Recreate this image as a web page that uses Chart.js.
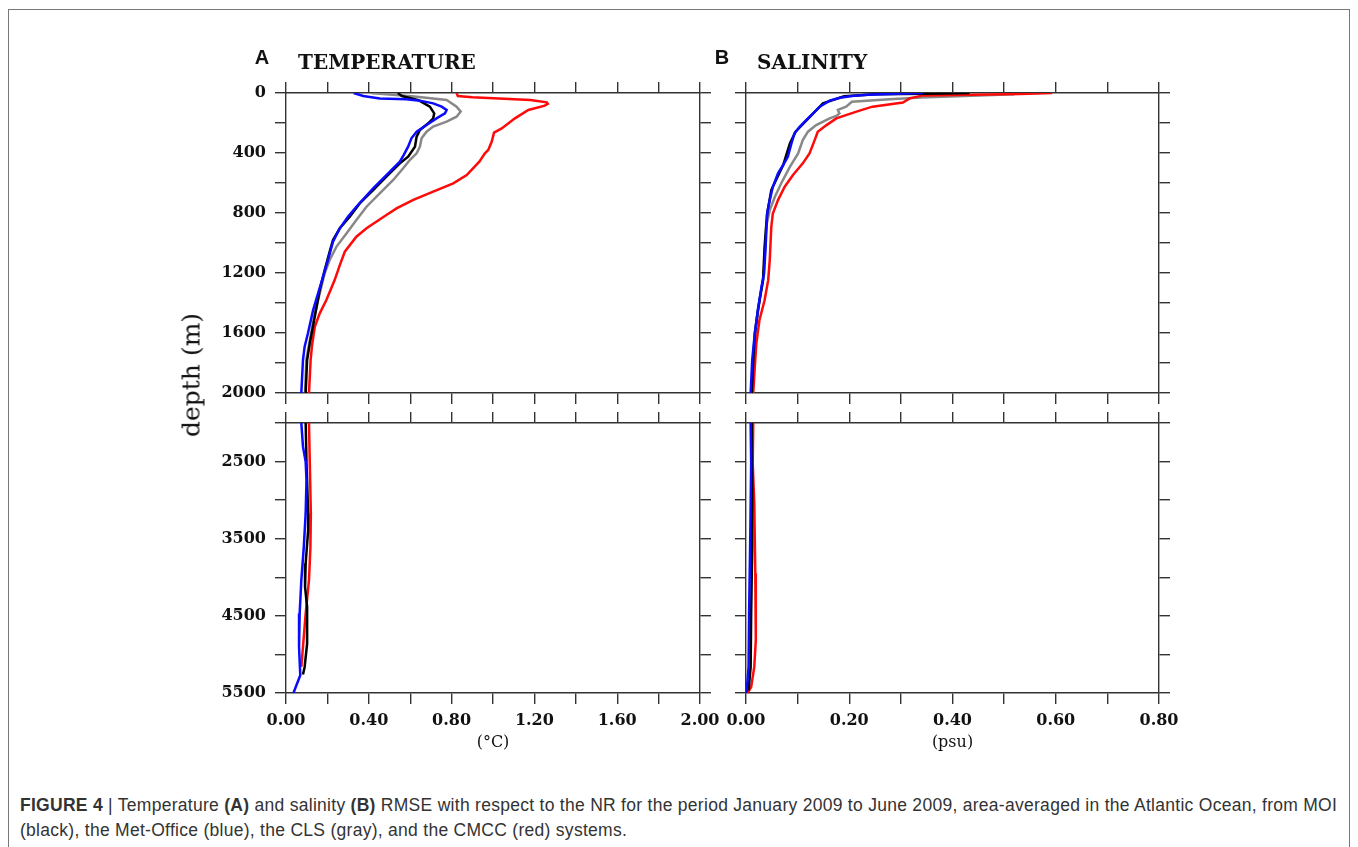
<!DOCTYPE html>
<html>
<head>
<meta charset="utf-8">
<script src="https://cdn.jsdelivr.net/npm/chart.js@4.4.1/dist/chart.umd.min.js"></script>
<style>
  body { margin: 0; background: #fff; width: 1358px; height: 847px; overflow: hidden; position: relative; }
  #frame { position: absolute; left: 8px; top: 9px; width: 1342px; height: 870px; border: 1px solid #777; box-sizing: border-box; }
  canvas { position: absolute; }
  .txt { position: absolute; white-space: nowrap; line-height: 1; transform: translateY(-50%); color: #111; }
  .letter { font: bold 20px "Liberation Sans", Arial, sans-serif; transform: translate(-50%, -50%); }
  .ptitle { font: bold 20px "DejaVu Serif", serif; }
  #ylab { font: 25px "DejaVu Serif", serif; transform: translate(-50%, -50%) rotate(-90deg); }
  #cap { position: absolute; left: 20px; top: 793px; font: 17.5px "Liberation Sans", Arial, sans-serif; letter-spacing: 0.28px; line-height: 25px; color: #333; white-space: nowrap; }
</style>
</head>
<body>
<div id="frame"></div>
<canvas id="tl" width="540" height="365" style="left:190px;top:40px"></canvas>
<canvas id="bl" width="540" height="350" style="left:190px;top:405px"></canvas>
<canvas id="tr" width="520" height="365" style="left:690px;top:40px"></canvas>
<canvas id="br" width="520" height="350" style="left:690px;top:405px"></canvas>

<div class="txt letter" style="left:262px;top:57px">A</div>
<div class="txt ptitle" style="left:298px;top:62px">TEMPERATURE</div>
<div class="txt letter" style="left:722px;top:57px">B</div>
<div class="txt ptitle" style="left:757px;top:62px">SALINITY</div>
<div class="txt" id="ylab" style="left:191px;top:375px">depth (m)</div>

<div id="cap"><b>FIGURE 4</b> | Temperature <b>(A)</b> and salinity <b>(B)</b> RMSE with respect to the NR for the period January 2009 to June 2009, area-averaged in the Atlantic Ocean, from MOI<br>(black), the Met-Office (blue), the CLS (gray), and the CMCC (red) systems.</div>

<script>
// temperature RMSE (degC) vs depth (m)
const tMoiDepth = [0, 20, 47, 91, 136, 169, 202, 247, 291, 358, 424, 469, 558, 647, 736, 824, 902, 980, 1058, 1180, 1313, 1491, 1669, 1780, 2000, 2523, 3172, 3389, 3821, 4124, 4384, 4860, 5162, 5260];
const tMoi = [0.54, 0.56, 0.64, 0.695, 0.716, 0.711, 0.687, 0.647, 0.631, 0.623, 0.59, 0.55, 0.485, 0.421, 0.356, 0.308, 0.26, 0.227, 0.211, 0.187, 0.163, 0.139, 0.115, 0.102, 0.095, 0.099, 0.107, 0.107, 0.095, 0.092, 0.102, 0.102, 0.09, 0.082];

const tMetDepth = [0, 20, 36, 42, 51, 69, 91, 113, 136, 169, 213, 258, 302, 358, 413, 458, 547, 636, 758, 824, 902, 991, 1113, 1224, 1336, 1447, 1602, 1691, 1780, 2000, 2307, 2502, 2740, 3172, 3605, 4038, 4470, 4903, 5270, 5500];
const tMet = [0.327, 0.373, 0.453, 0.582, 0.647, 0.711, 0.752, 0.776, 0.768, 0.727, 0.679, 0.631, 0.606, 0.59, 0.569, 0.55, 0.485, 0.421, 0.34, 0.3, 0.26, 0.227, 0.203, 0.179, 0.155, 0.131, 0.106, 0.09, 0.082, 0.074, 0.082, 0.095, 0.099, 0.095, 0.086, 0.074, 0.066, 0.063, 0.069, 0.036];

const tClsDepth = [0, 24, 47, 91, 124, 158, 191, 224, 258, 302, 358, 402, 447, 502, 580, 669, 758, 847, 936, 1024, 1113, 1202, 1336, 1469, 1647, 1780, 2000];
const tCls = [0.41, 0.62, 0.776, 0.824, 0.844, 0.824, 0.776, 0.711, 0.679, 0.655, 0.647, 0.631, 0.598, 0.566, 0.518, 0.453, 0.389, 0.34, 0.292, 0.244, 0.211, 0.187, 0.163, 0.139, 0.115, 0.098, 0.092];

const tCmccDepth = [0, 20, 28, 47, 62, 72, 84, 113, 169, 236, 264, 324, 380, 402, 458, 547, 602, 658, 713, 769, 813, 902, 958, 1058, 1147, 1247, 1380, 1469, 1558, 1680, 1780, 1891, 2000, 2523, 3172, 3605, 4038, 4470, 4903, 5162];
const tCmcc = [0.824, 0.83, 0.9, 1.18, 1.26, 1.265, 1.25, 1.171, 1.106, 1.042, 1.005, 0.994, 0.977, 0.961, 0.934, 0.873, 0.808, 0.711, 0.615, 0.534, 0.485, 0.389, 0.34, 0.284, 0.26, 0.235, 0.195, 0.163, 0.139, 0.126, 0.119, 0.115, 0.111, 0.115, 0.12, 0.118, 0.111, 0.095, 0.082, 0.074];

// salinity RMSE (psu) vs depth (m)
const sMoiDepth = [0, 5, 9, 22, 69, 258, 336, 480, 647, 803, 1026, 1248, 1448, 1604, 1782, 2000, 2740, 3605, 4470, 5162, 5465];
const sMoi = [0.433, 0.35, 0.252, 0.19, 0.149, 0.096, 0.085, 0.072, 0.049, 0.041, 0.036, 0.033, 0.023, 0.017, 0.014, 0.011, 0.012, 0.012, 0.01, 0.009, 0.005];

const sMetDepth = [0, 6, 12, 20, 32, 51, 91, 136, 180, 225, 269, 336, 425, 480, 536, 625, 714, 803, 1026, 1204, 1293, 1448, 1604, 1782, 2000, 2523, 3605, 4470, 5162, 5500];
const sMet = [0.343, 0.28, 0.235, 0.205, 0.182, 0.162, 0.143, 0.13, 0.117, 0.104, 0.094, 0.088, 0.081, 0.072, 0.062, 0.052, 0.046, 0.041, 0.038, 0.035, 0.03, 0.023, 0.017, 0.012, 0.009, 0.01, 0.008, 0.006, 0.005, 0.001];

const sClsDepth = [0, 9, 30, 42, 58, 91, 113, 136, 153, 169, 214, 258, 314, 403, 492, 603, 692, 781, 892, 1115, 1248, 1382, 1560, 1782, 2000];
const sCls = [0.5, 0.52, 0.34, 0.278, 0.205, 0.194, 0.178, 0.181, 0.175, 0.162, 0.136, 0.12, 0.11, 0.101, 0.085, 0.068, 0.056, 0.046, 0.039, 0.036, 0.033, 0.026, 0.02, 0.015, 0.012];

const sCmccDepth = [0, 7, 16, 36, 64, 91, 124, 169, 214, 258, 314, 403, 469, 547, 625, 714, 803, 892, 1115, 1248, 1382, 1515, 1671, 1826, 2000, 2523, 3043, 3951, 4816, 5162, 5422, 5500];
const sCmcc = [0.593, 0.53, 0.343, 0.317, 0.304, 0.245, 0.214, 0.175, 0.156, 0.139, 0.133, 0.123, 0.11, 0.091, 0.075, 0.062, 0.052, 0.049, 0.046, 0.043, 0.036, 0.026, 0.02, 0.017, 0.014, 0.013, 0.016, 0.018, 0.019, 0.016, 0.01, 0.003];

const tempTicksX = { max: 2, step: 0.2 };
const salTicksX = { max: 0.8, step: 0.1 };

Chart.defaults.font.family = '"DejaVu Serif", serif';
Chart.defaults.color = '#111';

function pts(depth, vals) {
  return depth.map((d, i) => ({ x: vals[i], y: d }));
}

function series(moi, met, cls, cmcc) {
  // first dataset ends up on top
  const ds = [
    { label: 'Met-Office', data: met, borderColor: '#0a0aff' },
    { label: 'MOI', data: moi, borderColor: '#000000' },
    { label: 'CMCC', data: cmcc, borderColor: '#ff0a0a' },
    { label: 'CLS', data: cls, borderColor: '#888888' },
  ];
  ds.forEach((d) => {
    d.showLine = true;
    d.pointRadius = 0;
    d.borderWidth = 2.5;
    d.tension = 0;
    d.clip = 0;
  });
  return ds;
}

const tempData = series(pts(tMoiDepth, tMoi), pts(tMetDepth, tMet), pts(tClsDepth, tCls), pts(tCmccDepth, tCmcc));
const salData = series(pts(sMoiDepth, sMoi), pts(sMetDepth, sMet), pts(sClsDepth, sCls), pts(sCmccDepth, sCmcc));

const grid = { drawOnChartArea: false, drawTicks: true, tickLength: 11, color: '#333', lineWidth: 1.4 };
const border = { display: true, color: '#333', width: 1.4 };

function fixSize(w, h) {
  return (s) => {
    if (w !== null) s.width = w;
    if (h !== null) s.height = h;
    s.paddingLeft = s.paddingRight = s.paddingTop = s.paddingBottom = 0;
  };
}

function panel(id, o) {
  const evenOnly = (v, i) => (i % 2 === 0 ? v.toFixed(2) : '');
  const tickFont = { size: 16, weight: 'bold' };
  new Chart(document.getElementById(id), {
    type: 'scatter',
    data: { datasets: o.datasets },
    options: {
      responsive: false,
      animation: false,
      devicePixelRatio: 1,
      layout: { padding: 0 },
      plugins: { legend: { display: false }, tooltip: { enabled: false } },
      scales: {
        x: {
          type: 'linear', position: 'bottom', min: 0, max: o.xr.max,
          ticks: { stepSize: o.xr.step, display: o.xLabels, callback: evenOnly, font: tickFont, padding: 7, maxRotation: 0, autoSkip: false },
          title: { display: !!o.xTitle, text: o.xTitle, font: { size: 16 }, padding: { top: 0, bottom: 3 } },
          grid, border, afterFit: fixSize(null, o.bottom),
        },
        xTop: {
          type: 'linear', position: 'top', min: 0, max: o.xr.max,
          ticks: { stepSize: o.xr.step, display: false },
          grid, border, afterFit: fixSize(null, o.top),
        },
        y: {
          type: 'linear', position: 'left', reverse: true, min: o.yMin, max: o.yMax,
          ticks: { stepSize: o.yStep, display: o.yLabels, callback: (v) => (v % o.yEvery === o.yRem ? String(v) : ''), font: tickFont, padding: 9, autoSkip: false },
          grid, border, afterFit: fixSize(o.left, null),
        },
        yRight: {
          type: 'linear', position: 'right', reverse: true, min: o.yMin, max: o.yMax,
          ticks: { stepSize: o.yStep, display: false },
          grid, border, afterFit: fixSize(o.right, null),
        },
      },
    },
  });
}

panel('tl', { datasets: tempData, xr: tempTicksX, xLabels: false, yMin: 0, yMax: 2000, yStep: 200, yLabels: true, yEvery: 400, yRem: 0, top: 53, bottom: 12, left: 96, right: 30 });
panel('bl', { datasets: tempData, xr: tempTicksX, xLabels: true, xTitle: '(\u00b0C)', yMin: 2000, yMax: 5500, yStep: 500, yLabels: true, yEvery: 1000, yRem: 500, top: 18, bottom: 62, left: 96, right: 30 });
panel('tr', { datasets: salData, xr: salTicksX, xLabels: false, yMin: 0, yMax: 2000, yStep: 200, yLabels: false, yEvery: 400, yRem: 0, top: 53, bottom: 12, left: 56, right: 51 });
panel('br', { datasets: salData, xr: salTicksX, xLabels: true, xTitle: '(psu)', yMin: 2000, yMax: 5500, yStep: 500, yLabels: false, yEvery: 1000, yRem: 500, top: 18, bottom: 62, left: 56, right: 51 });
</script>
</body>
</html>
